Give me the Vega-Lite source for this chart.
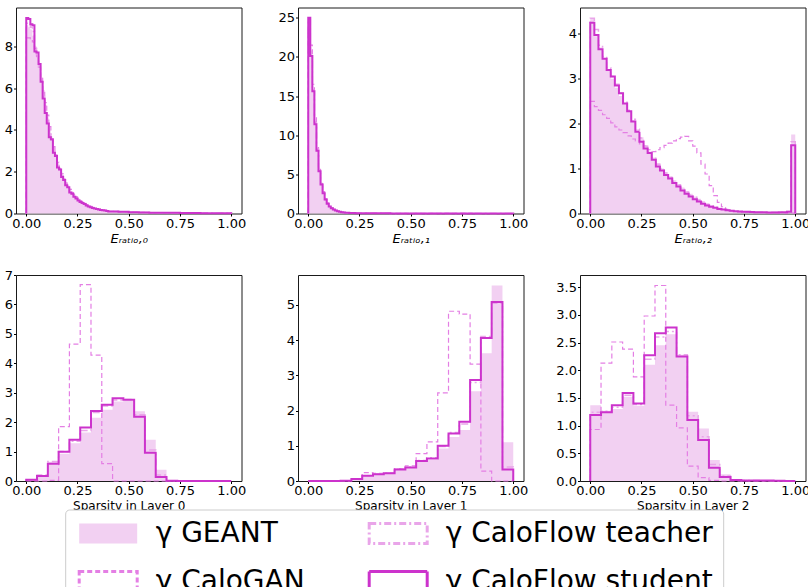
{
"$schema": "https://vega.github.io/schema/vega-lite/v6.json",
"background": "white",
"padding": {"left": 3, "top": 6.5, "right": 1, "bottom": -11},
"data": {"values": [
{"p":"e0","x":0,"g":0,"c":0,"t":0,"s":0},
{"p":"e0","x":0.00,"g":9.0,"c":8.4,"t":9.1,"s":9.35},
{"p":"e0","x":0.01,"g":8.9,"c":8.4,"t":9.1,"s":9.3},
{"p":"e0","x":0.02,"g":8.8,"c":8.35,"t":8.9,"s":9.05},
{"p":"e0","x":0.03,"g":8.5,"c":8.2,"t":8.7,"s":9.0},
{"p":"e0","x":0.04,"g":8.0,"c":7.9,"t":7.9,"s":7.75},
{"p":"e0","x":0.05,"g":7.6,"c":7.5,"t":7.6,"s":7.7},
{"p":"e0","x":0.06,"g":7.1,"c":7.0,"t":7.0,"s":7.15},
{"p":"e0","x":0.07,"g":6.5,"c":6.5,"t":6.4,"s":6.3},
{"p":"e0","x":0.08,"g":5.9,"c":5.9,"t":5.6,"s":5.5},
{"p":"e0","x":0.09,"g":5.2,"c":5.3,"t":4.9,"s":4.8},
{"p":"e0","x":0.10,"g":4.6,"c":4.7,"t":4.35,"s":4.3},
{"p":"e0","x":0.11,"g":4.0,"c":4.15,"t":3.8,"s":3.65},
{"p":"e0","x":0.12,"g":3.6,"c":3.65,"t":3.5,"s":3.55},
{"p":"e0","x":0.13,"g":3.2,"c":3.2,"t":3.0,"s":2.9},
{"p":"e0","x":0.14,"g":2.8,"c":2.8,"t":2.7,"s":2.75},
{"p":"e0","x":0.15,"g":2.45,"c":2.45,"t":2.3,"s":2.2},
{"p":"e0","x":0.16,"g":2.2,"c":2.15,"t":2.1,"s":2.1},
{"p":"e0","x":0.17,"g":1.95,"c":1.9,"t":1.8,"s":1.75},
{"p":"e0","x":0.18,"g":1.7,"c":1.65,"t":1.6,"s":1.6},
{"p":"e0","x":0.19,"g":1.5,"c":1.45,"t":1.4,"s":1.35},
{"p":"e0","x":0.20,"g":1.35,"c":1.3,"t":1.25,"s":1.25},
{"p":"e0","x":0.21,"g":1.2,"c":1.15,"t":1.05,"s":1.0},
{"p":"e0","x":0.22,"g":1.05,"c":1.0,"t":0.95,"s":0.95},
{"p":"e0","x":0.23,"g":0.92,"c":0.9,"t":0.82,"s":0.8},
{"p":"e0","x":0.24,"g":0.82,"c":0.8,"t":0.73,"s":0.72},
{"p":"e0","x":0.25,"g":0.73,"c":0.7,"t":0.64,"s":0.62},
{"p":"e0","x":0.26,"g":0.64,"c":0.62,"t":0.57,"s":0.55},
{"p":"e0","x":0.27,"g":0.57,"c":0.55,"t":0.5,"s":0.5},
{"p":"e0","x":0.28,"g":0.5,"c":0.49,"t":0.45,"s":0.45},
{"p":"e0","x":0.29,"g":0.45,"c":0.43,"t":0.4,"s":0.38},
{"p":"e0","x":0.30,"g":0.4,"c":0.38,"t":0.35,"s":0.34},
{"p":"e0","x":0.31,"g":0.35,"c":0.34,"t":0.31,"s":0.3},
{"p":"e0","x":0.32,"g":0.31,"c":0.3,"t":0.28,"s":0.26},
{"p":"e0","x":0.33,"g":0.28,"c":0.27,"t":0.25,"s":0.24},
{"p":"e0","x":0.34,"g":0.25,"c":0.24,"t":0.22,"s":0.21},
{"p":"e0","x":0.35,"g":0.22,"c":0.21,"t":0.2,"s":0.19},
{"p":"e0","x":0.36,"g":0.2,"c":0.19,"t":0.18,"s":0.17},
{"p":"e0","x":0.37,"g":0.18,"c":0.17,"t":0.16,"s":0.15},
{"p":"e0","x":0.38,"g":0.16,"c":0.15,"t":0.14,"s":0.14},
{"p":"e0","x":0.39,"g":0.14,"c":0.13,"t":0.12,"s":0.12},
{"p":"e0","x":0.40,"g":0.11,"c":0.1,"t":0.1,"s":0.1},
{"p":"e0","x":0.45,"g":0.09,"c":0.08,"t":0.08,"s":0.08},
{"p":"e0","x":0.50,"g":0.07,"c":0.065,"t":0.06,"s":0.06},
{"p":"e0","x":0.55,"g":0.055,"c":0.05,"t":0.05,"s":0.05},
{"p":"e0","x":0.60,"g":0.045,"c":0.04,"t":0.04,"s":0.04},
{"p":"e0","x":0.65,"g":0.035,"c":0.035,"t":0.03,"s":0.03},
{"p":"e0","x":0.70,"g":0.03,"c":0.03,"t":0.03,"s":0.03},
{"p":"e0","x":0.75,"g":0.025,"c":0.025,"t":0.02,"s":0.02},
{"p":"e0","x":0.80,"g":0.02,"c":0.02,"t":0.02,"s":0.02},
{"p":"e0","x":0.85,"g":0.015,"c":0.015,"t":0.015,"s":0.015},
{"p":"e0","x":0.90,"g":0.01,"c":0.01,"t":0.01,"s":0.01},
{"p":"e0","x":0.95,"g":0.01,"c":0.01,"t":0.01,"s":0.01},
{"p":"e0","x":1.0,"g":0.01,"c":0.01,"t":0.01,"s":0.01},
{"p":"e0","x":1.0,"g":0,"c":0,"t":0,"s":0},

{"p":"e1","x":0,"g":0,"c":0,"t":0,"s":0},
{"p":"e1","x":0.00,"g":24.6,"c":23.5,"t":24.8,"s":25.0},
{"p":"e1","x":0.01,"g":20.8,"c":21.5,"t":20.3,"s":20.1},
{"p":"e1","x":0.02,"g":15.9,"c":16.5,"t":15.7,"s":15.6},
{"p":"e1","x":0.03,"g":11.8,"c":12.3,"t":11.6,"s":11.4},
{"p":"e1","x":0.04,"g":8.4,"c":8.6,"t":8.2,"s":8.0},
{"p":"e1","x":0.05,"g":5.8,"c":5.9,"t":5.5,"s":5.4},
{"p":"e1","x":0.06,"g":4.0,"c":4.0,"t":3.8,"s":3.7},
{"p":"e1","x":0.07,"g":2.8,"c":2.8,"t":2.6,"s":2.6},
{"p":"e1","x":0.08,"g":1.95,"c":1.9,"t":1.8,"s":1.8},
{"p":"e1","x":0.09,"g":1.4,"c":1.35,"t":1.3,"s":1.25},
{"p":"e1","x":0.10,"g":1.0,"c":1.0,"t":0.92,"s":0.9},
{"p":"e1","x":0.11,"g":0.75,"c":0.72,"t":0.7,"s":0.68},
{"p":"e1","x":0.12,"g":0.56,"c":0.54,"t":0.52,"s":0.5},
{"p":"e1","x":0.13,"g":0.42,"c":0.4,"t":0.39,"s":0.38},
{"p":"e1","x":0.14,"g":0.32,"c":0.31,"t":0.3,"s":0.29},
{"p":"e1","x":0.15,"g":0.25,"c":0.24,"t":0.23,"s":0.22},
{"p":"e1","x":0.16,"g":0.19,"c":0.18,"t":0.17,"s":0.17},
{"p":"e1","x":0.17,"g":0.15,"c":0.14,"t":0.13,"s":0.13},
{"p":"e1","x":0.18,"g":0.12,"c":0.11,"t":0.1,"s":0.1},
{"p":"e1","x":0.19,"g":0.09,"c":0.09,"t":0.08,"s":0.08},
{"p":"e1","x":0.20,"g":0.08,"c":0.08,"t":0.07,"s":0.07},
{"p":"e1","x":0.21,"g":0.07,"c":0.07,"t":0.06,"s":0.06},
{"p":"e1","x":0.22,"g":0.06,"c":0.06,"t":0.05,"s":0.05},
{"p":"e1","x":0.23,"g":0.05,"c":0.05,"t":0.045,"s":0.045},
{"p":"e1","x":0.24,"g":0.045,"c":0.045,"t":0.04,"s":0.04},
{"p":"e1","x":0.25,"g":0.035,"c":0.035,"t":0.03,"s":0.03},
{"p":"e1","x":0.30,"g":0.028,"c":0.028,"t":0.025,"s":0.025},
{"p":"e1","x":0.35,"g":0.022,"c":0.022,"t":0.02,"s":0.02},
{"p":"e1","x":0.40,"g":0.017,"c":0.017,"t":0.015,"s":0.015},
{"p":"e1","x":0.45,"g":0.013,"c":0.013,"t":0.012,"s":0.012},
{"p":"e1","x":0.50,"g":0.01,"c":0.01,"t":0.01,"s":0.01},
{"p":"e1","x":0.55,"g":0.01,"c":0.01,"t":0.01,"s":0.01},
{"p":"e1","x":0.60,"g":0.008,"c":0.008,"t":0.008,"s":0.008},
{"p":"e1","x":0.65,"g":0.006,"c":0.006,"t":0.006,"s":0.006},
{"p":"e1","x":0.70,"g":0.005,"c":0.005,"t":0.005,"s":0.005},
{"p":"e1","x":0.75,"g":0.004,"c":0.004,"t":0.004,"s":0.004},
{"p":"e1","x":0.80,"g":0.003,"c":0.003,"t":0.003,"s":0.003},
{"p":"e1","x":0.85,"g":0.003,"c":0.003,"t":0.003,"s":0.003},
{"p":"e1","x":0.90,"g":0.002,"c":0.002,"t":0.002,"s":0.002},
{"p":"e1","x":0.95,"g":0.002,"c":0.002,"t":0.002,"s":0.002},
{"p":"e1","x":1.0,"g":0.002,"c":0.002,"t":0.002,"s":0.002},
{"p":"e1","x":1.0,"g":0,"c":0,"t":0,"s":0},

{"p":"e2","x":0,"g":0,"c":0,"t":0,"s":0},
{"p":"e2","x":0.00,"g":4.35,"c":2.5,"t":4.35,"s":4.25},
{"p":"e2","x":0.02,"g":3.95,"c":2.38,"t":4.1,"s":3.98},
{"p":"e2","x":0.04,"g":3.7,"c":2.3,"t":3.75,"s":3.66},
{"p":"e2","x":0.06,"g":3.45,"c":2.2,"t":3.5,"s":3.45},
{"p":"e2","x":0.08,"g":3.2,"c":2.12,"t":3.25,"s":3.2},
{"p":"e2","x":0.10,"g":3.0,"c":2.02,"t":3.05,"s":3.05},
{"p":"e2","x":0.12,"g":2.8,"c":1.93,"t":2.88,"s":2.85},
{"p":"e2","x":0.14,"g":2.62,"c":1.86,"t":2.68,"s":2.68},
{"p":"e2","x":0.16,"g":2.45,"c":1.8,"t":2.48,"s":2.45},
{"p":"e2","x":0.18,"g":2.28,"c":1.73,"t":2.3,"s":2.28},
{"p":"e2","x":0.20,"g":2.08,"c":1.66,"t":2.1,"s":2.05},
{"p":"e2","x":0.22,"g":1.88,"c":1.62,"t":1.88,"s":1.82},
{"p":"e2","x":0.24,"g":1.7,"c":1.55,"t":1.68,"s":1.6},
{"p":"e2","x":0.26,"g":1.52,"c":1.5,"t":1.5,"s":1.45},
{"p":"e2","x":0.28,"g":1.38,"c":1.42,"t":1.38,"s":1.35},
{"p":"e2","x":0.30,"g":1.25,"c":1.38,"t":1.25,"s":1.2},
{"p":"e2","x":0.32,"g":1.12,"c":1.42,"t":1.1,"s":1.05},
{"p":"e2","x":0.34,"g":1.0,"c":1.47,"t":1.0,"s":0.96},
{"p":"e2","x":0.36,"g":0.92,"c":1.52,"t":0.9,"s":0.86},
{"p":"e2","x":0.38,"g":0.83,"c":1.57,"t":0.8,"s":0.78},
{"p":"e2","x":0.40,"g":0.74,"c":1.62,"t":0.72,"s":0.68},
{"p":"e2","x":0.42,"g":0.66,"c":1.67,"t":0.64,"s":0.6},
{"p":"e2","x":0.44,"g":0.58,"c":1.7,"t":0.56,"s":0.51},
{"p":"e2","x":0.46,"g":0.5,"c":1.72,"t":0.48,"s":0.44},
{"p":"e2","x":0.48,"g":0.44,"c":1.62,"t":0.42,"s":0.38},
{"p":"e2","x":0.50,"g":0.38,"c":1.5,"t":0.36,"s":0.32},
{"p":"e2","x":0.52,"g":0.33,"c":1.35,"t":0.3,"s":0.27},
{"p":"e2","x":0.54,"g":0.28,"c":1.1,"t":0.25,"s":0.22},
{"p":"e2","x":0.56,"g":0.23,"c":0.88,"t":0.2,"s":0.18},
{"p":"e2","x":0.58,"g":0.19,"c":0.62,"t":0.17,"s":0.15},
{"p":"e2","x":0.60,"g":0.15,"c":0.4,"t":0.14,"s":0.13},
{"p":"e2","x":0.62,"g":0.12,"c":0.25,"t":0.11,"s":0.1},
{"p":"e2","x":0.64,"g":0.1,"c":0.15,"t":0.09,"s":0.09},
{"p":"e2","x":0.66,"g":0.08,"c":0.09,"t":0.075,"s":0.07},
{"p":"e2","x":0.68,"g":0.065,"c":0.06,"t":0.06,"s":0.06},
{"p":"e2","x":0.70,"g":0.055,"c":0.045,"t":0.05,"s":0.05},
{"p":"e2","x":0.72,"g":0.05,"c":0.035,"t":0.045,"s":0.045},
{"p":"e2","x":0.74,"g":0.045,"c":0.03,"t":0.04,"s":0.04},
{"p":"e2","x":0.76,"g":0.04,"c":0.025,"t":0.04,"s":0.04},
{"p":"e2","x":0.78,"g":0.035,"c":0.02,"t":0.035,"s":0.035},
{"p":"e2","x":0.80,"g":0.03,"c":0.02,"t":0.03,"s":0.03},
{"p":"e2","x":0.82,"g":0.03,"c":0.015,"t":0.03,"s":0.03},
{"p":"e2","x":0.84,"g":0.03,"c":0.015,"t":0.03,"s":0.03},
{"p":"e2","x":0.86,"g":0.03,"c":0.01,"t":0.03,"s":0.025},
{"p":"e2","x":0.88,"g":0.03,"c":0.01,"t":0.03,"s":0.025},
{"p":"e2","x":0.90,"g":0.03,"c":0.01,"t":0.03,"s":0.025},
{"p":"e2","x":0.92,"g":0.035,"c":0.01,"t":0.03,"s":0.03},
{"p":"e2","x":0.94,"g":0.04,"c":0.01,"t":0.035,"s":0.03},
{"p":"e2","x":0.96,"g":0.05,"c":0.01,"t":0.045,"s":0.04},
{"p":"e2","x":0.98,"g":1.76,"c":0.01,"t":1.6,"s":1.52},
{"p":"e2","x":1.0,"g":1.76,"c":0.01,"t":1.6,"s":1.52},
{"p":"e2","x":1.0,"g":0,"c":0,"t":0,"s":0},

{"p":"s0","x":0,"g":0,"c":0,"t":0,"s":0},
{"p":"s0","x":0.0,"g":0.03,"c":0.0,"t":0.04,"s":0.04},
{"p":"s0","x":0.0526,"g":0.2,"c":0.0,"t":0.2,"s":0.17},
{"p":"s0","x":0.1053,"g":0.65,"c":0.02,"t":0.66,"s":0.59},
{"p":"s0","x":0.1579,"g":0.93,"c":1.85,"t":1.0,"s":0.99},
{"p":"s0","x":0.2105,"g":1.28,"c":4.65,"t":1.35,"s":1.4},
{"p":"s0","x":0.2632,"g":1.65,"c":6.67,"t":1.72,"s":1.82},
{"p":"s0","x":0.3158,"g":2.15,"c":4.28,"t":2.33,"s":2.38},
{"p":"s0","x":0.3684,"g":2.42,"c":0.59,"t":2.55,"s":2.59},
{"p":"s0","x":0.4211,"g":2.7,"c":0.0,"t":2.75,"s":2.81},
{"p":"s0","x":0.4737,"g":2.73,"c":0.0,"t":2.77,"s":2.76},
{"p":"s0","x":0.5263,"g":2.37,"c":0.0,"t":2.25,"s":2.18},
{"p":"s0","x":0.5789,"g":1.4,"c":0.0,"t":1.05,"s":0.96},
{"p":"s0","x":0.6316,"g":0.38,"c":0.0,"t":0.2,"s":0.14},
{"p":"s0","x":0.6842,"g":0.02,"c":0.0,"t":0.01,"s":0.005},
{"p":"s0","x":0.7368,"g":0.0,"c":0.0,"t":0.0,"s":0.0},
{"p":"s0","x":0.7895,"g":0.0,"c":0.0,"t":0.0,"s":0.0},
{"p":"s0","x":0.8421,"g":0.0,"c":0.0,"t":0.0,"s":0.0},
{"p":"s0","x":0.8947,"g":0.0,"c":0.0,"t":0.0,"s":0.0},
{"p":"s0","x":0.9474,"g":0.0,"c":0.0,"t":0.0,"s":0.0},
{"p":"s0","x":1.0,"g":0,"c":0,"t":0,"s":0},

{"p":"s1","x":0,"g":0,"c":0,"t":0,"s":0},
{"p":"s1","x":0.0,"g":0.0,"c":0.0,"t":0.0,"s":0.0},
{"p":"s1","x":0.0526,"g":0.0,"c":0.0,"t":0.0,"s":0.0},
{"p":"s1","x":0.1053,"g":0.0,"c":0.0,"t":0.0,"s":0.0},
{"p":"s1","x":0.1579,"g":0.01,"c":0.01,"t":0.01,"s":0.005},
{"p":"s1","x":0.2105,"g":0.05,"c":0.07,"t":0.05,"s":0.06},
{"p":"s1","x":0.2632,"g":0.13,"c":0.24,"t":0.14,"s":0.15},
{"p":"s1","x":0.3158,"g":0.2,"c":0.22,"t":0.2,"s":0.19},
{"p":"s1","x":0.3684,"g":0.22,"c":0.22,"t":0.23,"s":0.22},
{"p":"s1","x":0.4211,"g":0.32,"c":0.35,"t":0.34,"s":0.33},
{"p":"s1","x":0.4737,"g":0.38,"c":0.43,"t":0.4,"s":0.38},
{"p":"s1","x":0.5263,"g":0.55,"c":0.78,"t":0.58,"s":0.57},
{"p":"s1","x":0.5789,"g":0.6,"c":1.11,"t":0.66,"s":0.64},
{"p":"s1","x":0.6316,"g":0.92,"c":2.5,"t":0.98,"s":1.0},
{"p":"s1","x":0.6842,"g":1.25,"c":4.82,"t":1.38,"s":1.35},
{"p":"s1","x":0.7368,"g":1.45,"c":4.74,"t":1.62,"s":1.68},
{"p":"s1","x":0.7895,"g":2.55,"c":3.32,"t":2.8,"s":2.87},
{"p":"s1","x":0.8421,"g":3.63,"c":0.28,"t":4.1,"s":4.06},
{"p":"s1","x":0.8947,"g":5.55,"c":0.0,"t":5.05,"s":5.08},
{"p":"s1","x":0.9474,"g":1.1,"c":0.0,"t":0.4,"s":0.33},
{"p":"s1","x":1.0,"g":1.1,"c":0.0,"t":0.4,"s":0.33},
{"p":"s1","x":1.0,"g":0,"c":0,"t":0,"s":0},

{"p":"s2","x":0,"g":0,"c":0,"t":0,"s":0},
{"p":"s2","x":0.0,"g":1.37,"c":0.93,"t":1.24,"s":1.19},
{"p":"s2","x":0.0526,"g":1.27,"c":2.13,"t":1.26,"s":1.24},
{"p":"s2","x":0.1053,"g":1.3,"c":2.51,"t":1.33,"s":1.37},
{"p":"s2","x":0.1579,"g":1.52,"c":2.38,"t":1.55,"s":1.59},
{"p":"s2","x":0.2105,"g":1.36,"c":1.88,"t":1.38,"s":1.4},
{"p":"s2","x":0.2632,"g":2.1,"c":2.98,"t":2.2,"s":2.27},
{"p":"s2","x":0.3158,"g":2.45,"c":3.53,"t":2.6,"s":2.67},
{"p":"s2","x":0.3684,"g":2.65,"c":1.37,"t":2.7,"s":2.77},
{"p":"s2","x":0.4211,"g":2.28,"c":0.96,"t":2.28,"s":2.25},
{"p":"s2","x":0.4737,"g":1.25,"c":0.27,"t":1.18,"s":1.1},
{"p":"s2","x":0.5263,"g":0.95,"c":0.06,"t":0.8,"s":0.74},
{"p":"s2","x":0.5789,"g":0.38,"c":0.01,"t":0.3,"s":0.24},
{"p":"s2","x":0.6316,"g":0.12,"c":0.0,"t":0.09,"s":0.07},
{"p":"s2","x":0.6842,"g":0.03,"c":0.0,"t":0.02,"s":0.02},
{"p":"s2","x":0.7368,"g":0.01,"c":0.0,"t":0.01,"s":0.01},
{"p":"s2","x":0.7895,"g":0.01,"c":0.0,"t":0.01,"s":0.01},
{"p":"s2","x":0.8421,"g":0.005,"c":0.0,"t":0.005,"s":0.01},
{"p":"s2","x":0.8947,"g":0.0,"c":0.0,"t":0.0,"s":0.005},
{"p":"s2","x":0.9474,"g":0.0,"c":0.0,"t":0.0,"s":0.0},
{"p":"s2","x":1.0,"g":0,"c":0,"t":0,"s":0}
]},
"columns": 3,
"spacing": {"row": 61.5, "column": 56},
"bounds": "flush",
"concat": [
{"width": 225.5, "height": 206,
 "transform": [{"filter": "datum.p == 'e0'"}, {"fold": ["g","c","t","s"], "as": ["m","v"]}],
 "encoding": {
  "x": {"field": "x", "type": "quantitative", "scale": {"domain": [-0.05, 1.05], "nice": false, "zero": false}, "axis": {"values": [0,0.25,0.5,0.75,1], "format": ".2f", "title": "Eᵣₐₜᵢₒ,₀", "titleFontSize": 13, "titleFontStyle": "italic"}},
  "y": {"field": "v", "type": "quantitative", "scale": {"domain": [0, 9.85], "nice": false}, "axis": {"values": [0,2,4,6,8], "title": null}}
 },
 "layer": [
  {"transform": [{"filter": "datum.m == 'g'"}], "mark": {"type": "area", "interpolate": "step-after", "opacity": 1},
   "encoding": {"fill": {"field": "m", "type": "nominal", "scale": {"domain": ["g","c","t","s"], "range": ["#f2d0f2","transparent","transparent","transparent"]},
     "legend": {"title": null, "orient": "none", "legendX": 49.2, "legendY": 502, "columns": 2, "labelExpr": "datum.value == 'g' ? 'γ GEANT' : datum.value == 'c' ? 'γ CaloGAN' : datum.value == 't' ? 'γ CaloFlow teacher' : 'γ CaloFlow student'", "symbolType": "M-2.9,-1H2.9V1H-2.9Z", "symbolSize": 400, "symbolOffset": 19, "symbolStrokeWidth": 3, "labelFontSize": 28, "labelFont": "DejaVu Sans", "labelColor": "#000", "labelLimit": 500, "labelOffset": 33.5, "rowPadding": 16, "columnPadding": 58, "padding": 10, "strokeColor": "#cccccc", "fillColor": "#ffffff", "cornerRadius": 4}}}},
  {"transform": [{"filter": "datum.m == 'c'"}], "mark": {"type": "line", "interpolate": "step-after", "strokeWidth": 1.2},
   "encoding": {"stroke": {"field": "m", "type": "nominal", "scale": {"domain": ["g","c","t","s"], "range": ["transparent","#e47fe4","#e9a5e9","#cc33cc"]},
     "legend": {"title": null, "orient": "none", "legendX": 49.2, "legendY": 502, "columns": 2, "labelExpr": "datum.value == 'g' ? 'γ GEANT' : datum.value == 'c' ? 'γ CaloGAN' : datum.value == 't' ? 'γ CaloFlow teacher' : 'γ CaloFlow student'", "symbolType": "M-2.9,-1H2.9V1H-2.9Z", "symbolSize": 400, "symbolOffset": 19, "symbolStrokeWidth": 3, "labelFontSize": 28, "labelFont": "DejaVu Sans", "labelColor": "#000", "labelLimit": 500, "labelOffset": 33.5, "rowPadding": 16, "columnPadding": 58, "padding": 10, "strokeColor": "#cccccc", "fillColor": "#ffffff", "cornerRadius": 4}},
    "strokeDash": {"field": "m", "type": "nominal", "scale": {"domain": ["g","c","t","s"], "range": [[1,0],[5,3],[7,3,2,3],[1,0]]},
     "legend": {"title": null, "orient": "none", "legendX": 49.2, "legendY": 502, "columns": 2, "labelExpr": "datum.value == 'g' ? 'γ GEANT' : datum.value == 'c' ? 'γ CaloGAN' : datum.value == 't' ? 'γ CaloFlow teacher' : 'γ CaloFlow student'", "symbolType": "M-2.9,-1H2.9V1H-2.9Z", "symbolSize": 400, "symbolOffset": 19, "symbolStrokeWidth": 3, "labelFontSize": 28, "labelFont": "DejaVu Sans", "labelColor": "#000", "labelLimit": 500, "labelOffset": 33.5, "rowPadding": 16, "columnPadding": 58, "padding": 10, "strokeColor": "#cccccc", "fillColor": "#ffffff", "cornerRadius": 4}}}},
  {"transform": [{"filter": "datum.m == 't'"}], "mark": {"type": "line", "interpolate": "step-after", "strokeWidth": 1.5},
   "encoding": {"stroke": {"field": "m", "type": "nominal", "scale": {"domain": ["g","c","t","s"], "range": ["transparent","#e47fe4","#e9a5e9","#cc33cc"]}, "legend": null},
    "strokeDash": {"field": "m", "type": "nominal", "scale": {"domain": ["g","c","t","s"], "range": [[1,0],[5,3],[7,3,2,3],[1,0]]}, "legend": null}}},
  {"transform": [{"filter": "datum.m == 's'"}], "mark": {"type": "line", "interpolate": "step-after", "strokeWidth": 2},
   "encoding": {"stroke": {"field": "m", "type": "nominal", "scale": {"domain": ["g","c","t","s"], "range": ["transparent","#e47fe4","#e9a5e9","#cc33cc"]}, "legend": null},
    "strokeDash": {"field": "m", "type": "nominal", "scale": {"domain": ["g","c","t","s"], "range": [[1,0],[5,3],[7,3,2,3],[1,0]]}, "legend": null}}}
 ]},
{"width": 225.5, "height": 206,
 "transform": [{"filter": "datum.p == 'e1'"}, {"fold": ["g","c","t","s"], "as": ["m","v"]}],
 "encoding": {
  "x": {"field": "x", "type": "quantitative", "scale": {"domain": [-0.05, 1.05], "nice": false, "zero": false}, "axis": {"values": [0,0.25,0.5,0.75,1], "format": ".2f", "title": "Eᵣₐₜᵢₒ,₁", "titleFontSize": 13, "titleFontStyle": "italic"}},
  "y": {"field": "v", "type": "quantitative", "scale": {"domain": [0, 26.3], "nice": false}, "axis": {"values": [0,5,10,15,20,25], "title": null}}
 },
 "layer": [
  {"transform": [{"filter": "datum.m == 'g'"}], "mark": {"type": "area", "interpolate": "step-after", "opacity": 1},
   "encoding": {"fill": {"field": "m", "type": "nominal", "scale": {"domain": ["g","c","t","s"], "range": ["#f2d0f2","transparent","transparent","transparent"]}, "legend": null}}},
  {"transform": [{"filter": "datum.m == 'c'"}], "mark": {"type": "line", "interpolate": "step-after", "strokeWidth": 1.2},
   "encoding": {"stroke": {"field": "m", "type": "nominal", "scale": {"domain": ["g","c","t","s"], "range": ["transparent","#e47fe4","#e9a5e9","#cc33cc"]}, "legend": null},
    "strokeDash": {"field": "m", "type": "nominal", "scale": {"domain": ["g","c","t","s"], "range": [[1,0],[5,3],[7,3,2,3],[1,0]]}, "legend": null}}},
  {"transform": [{"filter": "datum.m == 't'"}], "mark": {"type": "line", "interpolate": "step-after", "strokeWidth": 1.5},
   "encoding": {"stroke": {"field": "m", "type": "nominal", "scale": {"domain": ["g","c","t","s"], "range": ["transparent","#e47fe4","#e9a5e9","#cc33cc"]}, "legend": null},
    "strokeDash": {"field": "m", "type": "nominal", "scale": {"domain": ["g","c","t","s"], "range": [[1,0],[5,3],[7,3,2,3],[1,0]]}, "legend": null}}},
  {"transform": [{"filter": "datum.m == 's'"}], "mark": {"type": "line", "interpolate": "step-after", "strokeWidth": 2},
   "encoding": {"stroke": {"field": "m", "type": "nominal", "scale": {"domain": ["g","c","t","s"], "range": ["transparent","#e47fe4","#e9a5e9","#cc33cc"]}, "legend": null},
    "strokeDash": {"field": "m", "type": "nominal", "scale": {"domain": ["g","c","t","s"], "range": [[1,0],[5,3],[7,3,2,3],[1,0]]}, "legend": null}}}
 ]},
{"width": 225.5, "height": 206,
 "transform": [{"filter": "datum.p == 'e2'"}, {"fold": ["g","c","t","s"], "as": ["m","v"]}],
 "encoding": {
  "x": {"field": "x", "type": "quantitative", "scale": {"domain": [-0.05, 1.05], "nice": false, "zero": false}, "axis": {"values": [0,0.25,0.5,0.75,1], "format": ".2f", "title": "Eᵣₐₜᵢₒ,₂", "titleFontSize": 13, "titleFontStyle": "italic"}},
  "y": {"field": "v", "type": "quantitative", "scale": {"domain": [0, 4.59], "nice": false}, "axis": {"values": [0,1,2,3,4], "title": null}}
 },
 "layer": [
  {"transform": [{"filter": "datum.m == 'g'"}], "mark": {"type": "area", "interpolate": "step-after", "opacity": 1},
   "encoding": {"fill": {"field": "m", "type": "nominal", "scale": {"domain": ["g","c","t","s"], "range": ["#f2d0f2","transparent","transparent","transparent"]}, "legend": null}}},
  {"transform": [{"filter": "datum.m == 'c'"}], "mark": {"type": "line", "interpolate": "step-after", "strokeWidth": 1.2},
   "encoding": {"stroke": {"field": "m", "type": "nominal", "scale": {"domain": ["g","c","t","s"], "range": ["transparent","#e47fe4","#e9a5e9","#cc33cc"]}, "legend": null},
    "strokeDash": {"field": "m", "type": "nominal", "scale": {"domain": ["g","c","t","s"], "range": [[1,0],[5,3],[7,3,2,3],[1,0]]}, "legend": null}}},
  {"transform": [{"filter": "datum.m == 't'"}], "mark": {"type": "line", "interpolate": "step-after", "strokeWidth": 1.5},
   "encoding": {"stroke": {"field": "m", "type": "nominal", "scale": {"domain": ["g","c","t","s"], "range": ["transparent","#e47fe4","#e9a5e9","#cc33cc"]}, "legend": null},
    "strokeDash": {"field": "m", "type": "nominal", "scale": {"domain": ["g","c","t","s"], "range": [[1,0],[5,3],[7,3,2,3],[1,0]]}, "legend": null}}},
  {"transform": [{"filter": "datum.m == 's'"}], "mark": {"type": "line", "interpolate": "step-after", "strokeWidth": 2},
   "encoding": {"stroke": {"field": "m", "type": "nominal", "scale": {"domain": ["g","c","t","s"], "range": ["transparent","#e47fe4","#e9a5e9","#cc33cc"]}, "legend": null},
    "strokeDash": {"field": "m", "type": "nominal", "scale": {"domain": ["g","c","t","s"], "range": [[1,0],[5,3],[7,3,2,3],[1,0]]}, "legend": null}}}
 ]},
{"width": 225.5, "height": 206,
 "transform": [{"filter": "datum.p == 's0'"}, {"fold": ["g","c","t","s"], "as": ["m","v"]}],
 "encoding": {
  "x": {"field": "x", "type": "quantitative", "scale": {"domain": [-0.05, 1.05], "nice": false, "zero": false}, "axis": {"values": [0,0.25,0.5,0.75,1], "format": ".2f", "title": "Sparsity in Layer 0", "titlePadding": 3}},
  "y": {"field": "v", "type": "quantitative", "scale": {"domain": [0, 7], "nice": false}, "axis": {"values": [0,1,2,3,4,5,6,7], "title": null}}
 },
 "layer": [
  {"transform": [{"filter": "datum.m == 'g'"}], "mark": {"type": "area", "interpolate": "step-after", "opacity": 1},
   "encoding": {"fill": {"field": "m", "type": "nominal", "scale": {"domain": ["g","c","t","s"], "range": ["#f2d0f2","transparent","transparent","transparent"]}, "legend": null}}},
  {"transform": [{"filter": "datum.m == 'c'"}], "mark": {"type": "line", "interpolate": "step-after", "strokeWidth": 1.2},
   "encoding": {"stroke": {"field": "m", "type": "nominal", "scale": {"domain": ["g","c","t","s"], "range": ["transparent","#e47fe4","#e9a5e9","#cc33cc"]}, "legend": null},
    "strokeDash": {"field": "m", "type": "nominal", "scale": {"domain": ["g","c","t","s"], "range": [[1,0],[5,3],[7,3,2,3],[1,0]]}, "legend": null}}},
  {"transform": [{"filter": "datum.m == 't'"}], "mark": {"type": "line", "interpolate": "step-after", "strokeWidth": 1.5},
   "encoding": {"stroke": {"field": "m", "type": "nominal", "scale": {"domain": ["g","c","t","s"], "range": ["transparent","#e47fe4","#e9a5e9","#cc33cc"]}, "legend": null},
    "strokeDash": {"field": "m", "type": "nominal", "scale": {"domain": ["g","c","t","s"], "range": [[1,0],[5,3],[7,3,2,3],[1,0]]}, "legend": null}}},
  {"transform": [{"filter": "datum.m == 's'"}], "mark": {"type": "line", "interpolate": "step-after", "strokeWidth": 2},
   "encoding": {"stroke": {"field": "m", "type": "nominal", "scale": {"domain": ["g","c","t","s"], "range": ["transparent","#e47fe4","#e9a5e9","#cc33cc"]}, "legend": null},
    "strokeDash": {"field": "m", "type": "nominal", "scale": {"domain": ["g","c","t","s"], "range": [[1,0],[5,3],[7,3,2,3],[1,0]]}, "legend": null}}}
 ]},
{"width": 225.5, "height": 206,
 "transform": [{"filter": "datum.p == 's1'"}, {"fold": ["g","c","t","s"], "as": ["m","v"]}],
 "encoding": {
  "x": {"field": "x", "type": "quantitative", "scale": {"domain": [-0.05, 1.05], "nice": false, "zero": false}, "axis": {"values": [0,0.25,0.5,0.75,1], "format": ".2f", "title": "Sparsity in Layer 1", "titlePadding": 3}},
  "y": {"field": "v", "type": "quantitative", "scale": {"domain": [0, 5.85], "nice": false}, "axis": {"values": [0,1,2,3,4,5], "title": null}}
 },
 "layer": [
  {"transform": [{"filter": "datum.m == 'g'"}], "mark": {"type": "area", "interpolate": "step-after", "opacity": 1},
   "encoding": {"fill": {"field": "m", "type": "nominal", "scale": {"domain": ["g","c","t","s"], "range": ["#f2d0f2","transparent","transparent","transparent"]}, "legend": null}}},
  {"transform": [{"filter": "datum.m == 'c'"}], "mark": {"type": "line", "interpolate": "step-after", "strokeWidth": 1.2},
   "encoding": {"stroke": {"field": "m", "type": "nominal", "scale": {"domain": ["g","c","t","s"], "range": ["transparent","#e47fe4","#e9a5e9","#cc33cc"]}, "legend": null},
    "strokeDash": {"field": "m", "type": "nominal", "scale": {"domain": ["g","c","t","s"], "range": [[1,0],[5,3],[7,3,2,3],[1,0]]}, "legend": null}}},
  {"transform": [{"filter": "datum.m == 't'"}], "mark": {"type": "line", "interpolate": "step-after", "strokeWidth": 1.5},
   "encoding": {"stroke": {"field": "m", "type": "nominal", "scale": {"domain": ["g","c","t","s"], "range": ["transparent","#e47fe4","#e9a5e9","#cc33cc"]}, "legend": null},
    "strokeDash": {"field": "m", "type": "nominal", "scale": {"domain": ["g","c","t","s"], "range": [[1,0],[5,3],[7,3,2,3],[1,0]]}, "legend": null}}},
  {"transform": [{"filter": "datum.m == 's'"}], "mark": {"type": "line", "interpolate": "step-after", "strokeWidth": 2},
   "encoding": {"stroke": {"field": "m", "type": "nominal", "scale": {"domain": ["g","c","t","s"], "range": ["transparent","#e47fe4","#e9a5e9","#cc33cc"]}, "legend": null},
    "strokeDash": {"field": "m", "type": "nominal", "scale": {"domain": ["g","c","t","s"], "range": [[1,0],[5,3],[7,3,2,3],[1,0]]}, "legend": null}}}
 ]},
{"width": 225.5, "height": 206,
 "transform": [{"filter": "datum.p == 's2'"}, {"fold": ["g","c","t","s"], "as": ["m","v"]}],
 "encoding": {
  "x": {"field": "x", "type": "quantitative", "scale": {"domain": [-0.05, 1.05], "nice": false, "zero": false}, "axis": {"values": [0,0.25,0.5,0.75,1], "format": ".2f", "title": "Sparsity in Layer 2", "titlePadding": 3}},
  "y": {"field": "v", "type": "quantitative", "scale": {"domain": [0, 3.72], "nice": false}, "axis": {"values": [0,0.5,1,1.5,2,2.5,3,3.5], "format": ".1f", "title": null}}
 },
 "layer": [
  {"transform": [{"filter": "datum.m == 'g'"}], "mark": {"type": "area", "interpolate": "step-after", "opacity": 1},
   "encoding": {"fill": {"field": "m", "type": "nominal", "scale": {"domain": ["g","c","t","s"], "range": ["#f2d0f2","transparent","transparent","transparent"]}, "legend": null}}},
  {"transform": [{"filter": "datum.m == 'c'"}], "mark": {"type": "line", "interpolate": "step-after", "strokeWidth": 1.2},
   "encoding": {"stroke": {"field": "m", "type": "nominal", "scale": {"domain": ["g","c","t","s"], "range": ["transparent","#e47fe4","#e9a5e9","#cc33cc"]}, "legend": null},
    "strokeDash": {"field": "m", "type": "nominal", "scale": {"domain": ["g","c","t","s"], "range": [[1,0],[5,3],[7,3,2,3],[1,0]]}, "legend": null}}},
  {"transform": [{"filter": "datum.m == 't'"}], "mark": {"type": "line", "interpolate": "step-after", "strokeWidth": 1.5},
   "encoding": {"stroke": {"field": "m", "type": "nominal", "scale": {"domain": ["g","c","t","s"], "range": ["transparent","#e47fe4","#e9a5e9","#cc33cc"]}, "legend": null},
    "strokeDash": {"field": "m", "type": "nominal", "scale": {"domain": ["g","c","t","s"], "range": [[1,0],[5,3],[7,3,2,3],[1,0]]}, "legend": null}}},
  {"transform": [{"filter": "datum.m == 's'"}], "mark": {"type": "line", "interpolate": "step-after", "strokeWidth": 2},
   "encoding": {"stroke": {"field": "m", "type": "nominal", "scale": {"domain": ["g","c","t","s"], "range": ["transparent","#e47fe4","#e9a5e9","#cc33cc"]}, "legend": null},
    "strokeDash": {"field": "m", "type": "nominal", "scale": {"domain": ["g","c","t","s"], "range": [[1,0],[5,3],[7,3,2,3],[1,0]]}, "legend": null}}}
 ]}
],
"config": {
 "font": "DejaVu Sans",
 "view": {"stroke": "#1a1a1a", "strokeWidth": 1},
 "axis": {"domain": false, "grid": false, "ticks": true, "tickSize": 2.5, "tickColor": "#000", "tickWidth": 1, "labelFont": "DejaVu Sans", "labelFontSize": 13, "labelColor": "#000", "labelPadding": 1, "labelFlush": false, "labelOverlap": false, "labelBound": false, "titleFont": "DejaVu Sans", "titleFontSize": 12, "titleFontWeight": "normal", "titleColor": "#000", "titlePadding": 2}
}
}
